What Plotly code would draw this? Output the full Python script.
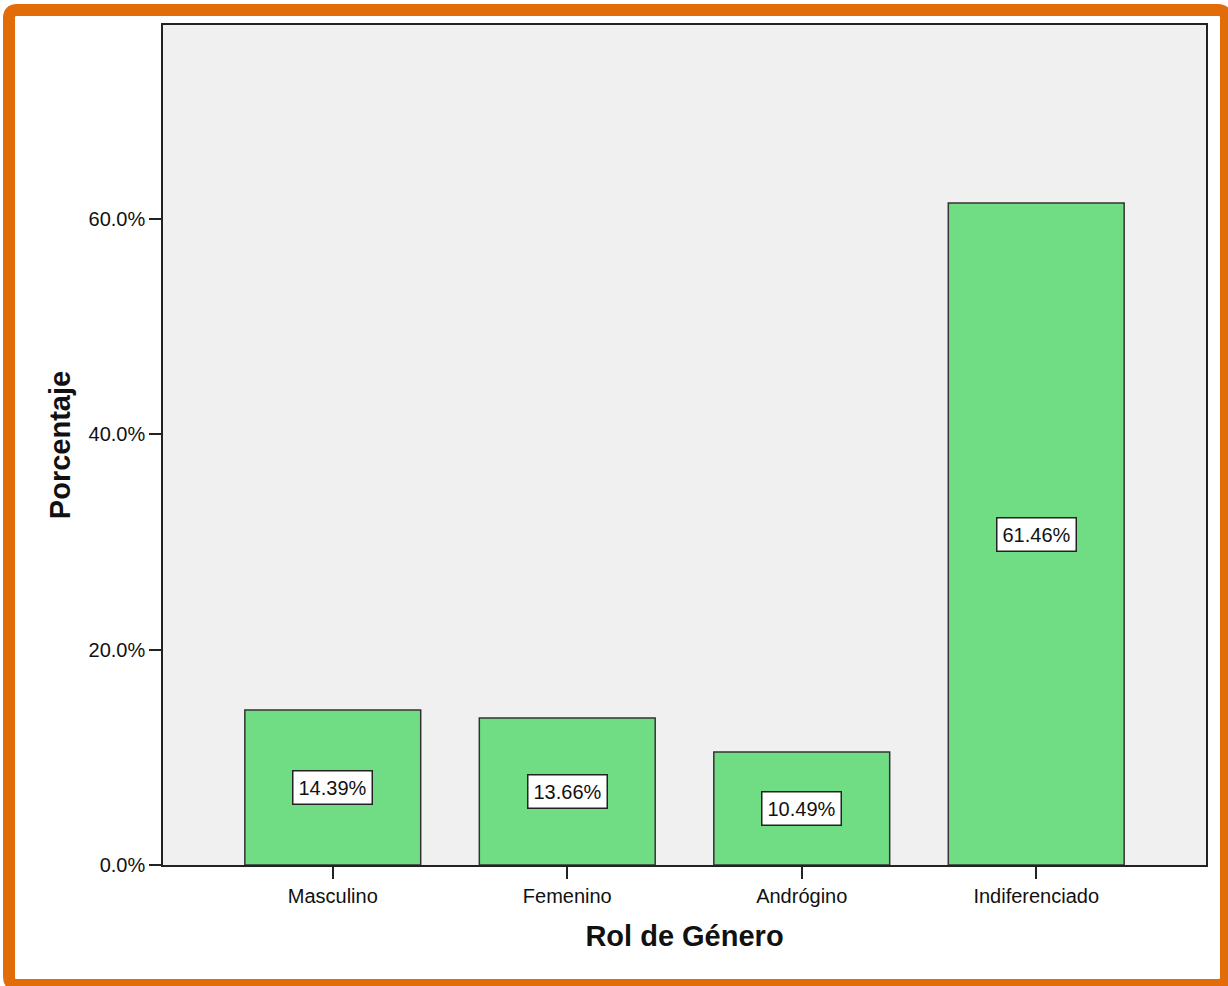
import plotly.graph_objects as go

# Distribution of gender roles (percent of respondents)
categories = ["Masculino", "Femenino", "Andrógino", "Indiferenciado"]
percentages = [14.39, 13.66, 10.49, 61.46]
y_ticks = [0, 20, 40, 60]

W, H = 1228, 986
L, R, T, B = 163, 22, 25, 121
plot_w, plot_h = W - L - R, H - T - B

FONT = "Liberation Sans, Arial, sans-serif"
BAR_COLOR = "#70DC84"
ORANGE = "#E36C0A"


def px_x(px):
    return (px - L) / plot_w


def px_y(py):
    return (H - B - py) / plot_h


fig = go.Figure(
    go.Bar(
        x=categories,
        y=percentages,
        width=0.75,
        marker=dict(color=BAR_COLOR, line=dict(color="#333333", width=1.5)),
        hoverinfo="x+y",
    )
)

# value labels in white boxes at the middle of each bar
for cat, val in zip(categories, percentages):
    fig.add_annotation(
        x=cat, y=val / 2, xref="x", yref="y",
        text=f"{val:.2f}%", showarrow=False,
        font=dict(family=FONT, size=20, color="#111111"),
        bgcolor="white", bordercolor="#222222", borderwidth=1.5, borderpad=5,
    )

# orange rounded frame around the whole chart
x0, x1 = px_x(9), px_x(1226)
y0, y1 = px_y(10), px_y(985)
rx, ry = 8 / plot_w, 8 / plot_h
path = (
    f"M {x0 + rx},{y0} L {x1 - rx},{y0} Q {x1},{y0} {x1},{y0 - ry} "
    f"L {x1},{y1 + ry} Q {x1},{y1} {x1 - rx},{y1} "
    f"L {x0 + rx},{y1} Q {x0},{y1} {x0},{y1 + ry} "
    f"L {x0},{y0 - ry} Q {x0},{y0} {x0 + rx},{y0} Z"
)
fig.add_shape(type="path", path=path, xref="paper", yref="paper",
              line=dict(color=ORANGE, width=12), fillcolor="rgba(0,0,0,0)",
              layer="above")

fig.update_layout(
    width=W, height=H,
    margin=dict(l=L, r=R, t=T, b=B, pad=0),
    paper_bgcolor="white",
    plot_bgcolor="#F0F0F0",
    showlegend=False,
    font=dict(family=FONT, size=20, color="#111111"),
    xaxis=dict(
        type="category",
        range=[-0.724, 3.724],
        showline=True, linecolor="#222222", linewidth=1.5, mirror=True,
        ticks="outside", ticklen=12, tickwidth=1.5, tickcolor="#222222",
        showgrid=False, zeroline=False,
        tickfont=dict(family=FONT, size=20, color="#111111"),
        title=dict(text="<b>Rol de Género</b>", standoff=20,
                   font=dict(family=FONT, size=29, color="#111111")),
    ),
    yaxis=dict(
        range=[0, 78],
        tickvals=y_ticks,
        ticktext=[f"{v:.1f}%" for v in y_ticks],
        showline=True, linecolor="#222222", linewidth=1.5, mirror=True,
        ticks="outside", ticklen=12, tickwidth=1.5, tickcolor="#222222",
        showgrid=False, zeroline=False,
        tickfont=dict(family=FONT, size=20, color="#111111"),
        title=dict(text="<b>Porcentaje</b>", standoff=9,
                   font=dict(family=FONT, size=29, color="#111111")),
    ),
)

fig.write_html("out.html")
